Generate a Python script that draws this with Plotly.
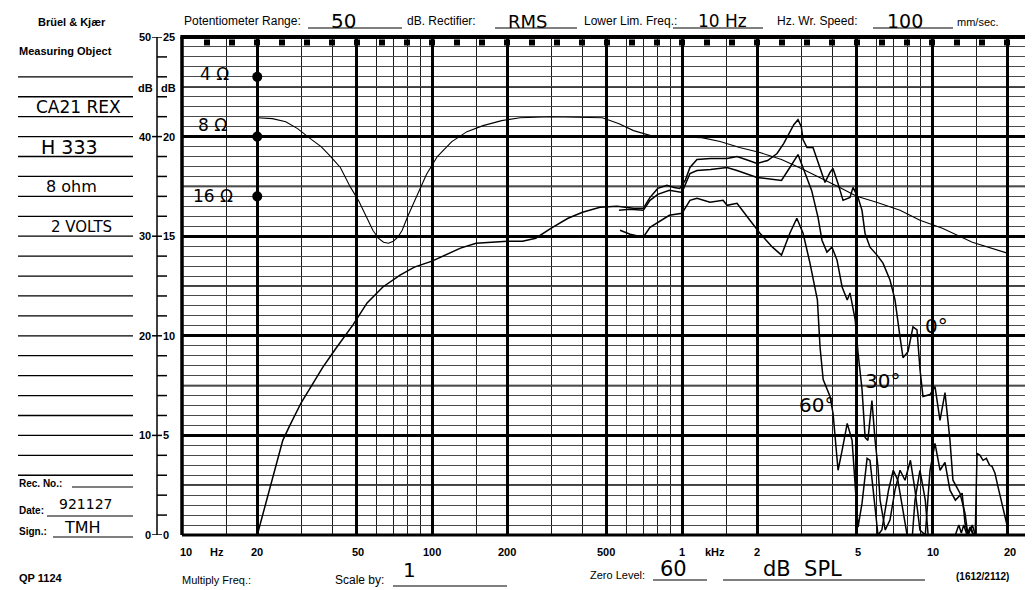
import plotly.graph_objects as go

# impedance curve (0-25 dB scale drawn on the same paper, read in 0-50 units)
imp_freq = [20, 23, 26, 29, 33, 36, 39, 43, 47, 51, 55, 58, 61, 64, 67, 70, 73, 76,
            80, 85, 90, 95, 105, 120, 138, 160, 190, 225, 300, 400, 480, 560, 640,
            750, 900, 1200, 1420, 1700, 2050, 2500, 3000, 3560, 4200, 5000, 6000,
            7450, 8950, 11000, 14500, 20000]
imp_db = [41.9, 41.8, 41.5, 40.8, 39.7, 39.0, 38.1, 36.9, 35.0, 33.5, 31.8, 30.6,
          29.8, 29.4, 29.3, 29.5, 29.9, 30.6, 32.0, 33.5, 35.0, 36.2, 38.0, 39.5,
          40.5, 41.1, 41.6, 41.9, 42.0, 41.9, 41.9, 41.3, 40.6, 40.1, 40.0, 39.9,
          39.5, 38.9, 38.4, 37.7, 36.8, 35.9, 35.0, 34.0, 33.4, 32.6, 31.6, 30.8,
          29.4, 28.3]

# SPL, 0 degrees (full sweep)
spl0_freq = [20, 21, 22, 23.5, 25.3, 27, 30, 33, 36.5, 40.9, 45, 48.3, 55, 63.6, 74.5,
             85, 100, 115, 130, 150, 175, 200, 230, 260, 300, 350, 400, 470, 550, 640,
             700, 745, 800, 870, 930, 980, 1030, 1076, 1148, 1300, 1514, 1660, 1800,
             1995, 2200, 2400, 2550, 2700, 2800, 2911, 3000, 3048, 3162, 3342, 3565,
             3733, 3908, 4018, 4207, 4406, 4699, 4831, 5058, 5248, 5395, 5649, 6026,
             6368, 6792, 7112, 7447, 7656, 8017, 8395, 8710, 8954, 9204, 9817, 10280,
             10765, 11272, 11588, 11800, 12130, 12940, 13550, 13930, 14300, 14600,
             14900, 15136, 15560, 16000, 16500, 17000, 17378, 17865, 18300, 18707,
             19400, 19953]
spl0_db = [0, 2, 4, 6.5, 9.5, 11, 13.3, 15, 16.8, 18.6, 20.0, 21.1, 23.3, 24.9, 26.1,
           26.9, 27.5, 28.2, 28.8, 29.3, 29.4, 29.5, 29.5, 29.8, 30.8, 31.8, 32.4, 32.9,
           33.0, 32.8, 32.8, 33.9, 34.8, 35.1, 34.9, 34.8, 35.6, 36.9, 37.7, 37.8, 37.8,
           38.0, 37.7, 37.3, 37.6, 38.3, 39.3, 40.4, 41.2, 41.7, 41.0, 39.7, 38.9, 38.9,
           36.9, 35.4, 36.4, 36.8, 35.3, 33.6, 33.9, 34.9, 33.9, 32.6, 30.3, 28.9, 28.1,
           27.3, 25.6, 23.6, 19.9, 17.8, 18.4, 20.9, 20.6, 16.6, 13.9, 14.1, 14.9, 11.5,
           14.3, 11.5, 9.5, 5.5, 4.2, 2.2, 0.0, 0.8, 0.1, 0.2, 8.2, 8.0, 7.5, 7.7, 7.0,
           6.9, 6.2, 5.0, 4.0, 2.3, 1.0]

# SPL, 30 degrees
spl30_freq = [560, 620, 700, 745, 800, 890, 1000, 1076, 1148, 1300, 1514, 1660, 1995,
              2300, 2500, 2700, 2911, 3100, 3300, 3500, 3630, 3800, 3980, 4170, 4370,
              4580, 4700, 4930, 5060, 5250, 5400, 5540, 5750, 5920, 6080, 6200, 6500,
              6790, 7110, 7450, 7800, 8200, 8550, 8950, 9400, 9820, 10280, 10770,
              11270, 11800, 12400, 13200, 13550, 13930, 14500, 14900]
spl30_db = [32.6, 32.7, 32.6, 33.6, 34.2, 34.6, 34.4, 36.3, 36.6, 36.7, 36.9, 36.6,
            35.9, 35.7, 35.6, 36.9, 38.2, 36.4, 34.6, 31.9, 29.6, 28.4, 28.9, 27.6,
            24.9, 23.6, 24.3, 21.6, 18.3, 14.6, 9.8, 9.5, 13.5, 9.5, 6.8, 3.5, 0.5,
            1.5, 4.5, 6.5, 5.5, 7.5, 4.5, 0.5, 0.0, 6.5, 9.2, 6.5, 7.3, 4.5, 3.5, 4.2,
            1.2, 0.0, 1.0, 0.0]

# SPL, 60 degrees
spl60_freq = [565, 620, 700, 745, 890, 1000, 1076, 1148, 1294, 1460, 1514, 1660, 1830,
              2050, 2300, 2500, 2700, 2880, 3050, 3250, 3480, 3565, 3670, 3910, 4020,
              4210, 4370, 4580, 4790, 4930, 5060, 5250, 5500, 5650, 5920, 6080, 6300,
              6700, 7000, 7300, 7650, 7950, 8350, 8550, 8950, 9400, 9650, 10500, 11500,
              12400, 12800, 13100, 13400, 13800, 14200, 14600, 15000]
spl60_db = [30.6, 30.2, 29.9, 30.9, 32.1, 32.3, 33.6, 33.8, 33.4, 33.6, 33.1, 33.3,
            31.9, 30.3, 28.9, 28.1, 30.3, 31.8, 30.3, 27.3, 23.6, 18.9, 15.6, 13.9,
            12.2, 6.5, 8.5, 11.2, 9.5, 4.5, 0.8, 3.2, 7.7, 7.5, 2.8, 0.0, 0.5, 4.5,
            6.5, 5.5, 2.5, 0.0, 0.0, 3.5, 6.5, 3.5, 0.0, 0.0, 0.0, 0.0, 1.0, 0.2, 1.0,
            0.0, 0.8, 0.0, 0.0]

# impedance calibration dots at 20 Hz
cal_freq = [20, 20, 20]
cal_db = [46, 40, 34]
cal_labels = ["4 Ω", "8 Ω", "16 Ω"]

major_f = [10, 20, 50, 100, 200, 500, 1000, 2000, 5000, 10000, 20000]
minor_f = [15, 30, 40, 60, 70, 80, 90, 150, 300, 400, 600, 700, 800, 900, 1500,
           3000, 4000, 6000, 7000, 8000, 9000, 15000]
freq_labels = ["10", "Hz", "20", "50", "100", "200", "500", "1", "kHz", "2", "5", "10", "20"]
scale_left = ["0", "10", "20", "30", "40", "50"]
scale_right = ["0", "5", "10", "15", "20", "25"]

# the page body adds an 8 px margin, so the figure is 8 px short of the window
OFF = 8
W, H = 1033 - OFF, 590 - OFF
# plot area in window pixels: x 182..1027, y 37..535
PX0, PX1, PY0, PY1 = 182, 1027, 37, 535
PRINT = "Liberation Sans, Arial, sans-serif"
HAND = "DejaVu Sans, sans-serif"


def xp(px):
    return (px - PX0) / (PX1 - PX0)


def yp(py):
    return (PY1 - py) / (PY1 - PY0)


fig = go.Figure()
fig.add_trace(go.Scatter(x=imp_freq, y=imp_db, mode="lines",
                         line=dict(color="black", width=1.1)))
for fx, dy in [(spl0_freq, spl0_db), (spl30_freq, spl30_db), (spl60_freq, spl60_db)]:
    fig.add_trace(go.Scatter(x=fx, y=dy, mode="lines",
                             line=dict(color="black", width=1.5)))
fig.add_trace(go.Scatter(x=cal_freq, y=cal_db, mode="markers",
                         marker=dict(color="black", size=10), cliponaxis=False))
# chart paper sprocket marks along the top edge
sprocket = [10 ** (1 + k / 10) for k in range(1, 34)]
fig.add_trace(go.Scatter(x=sprocket, y=[49.45] * len(sprocket), mode="markers",
                         marker=dict(symbol="square", color="black", size=6),
                         cliponaxis=False))

shapes = []


def hline(x0, x1, y, w=1.2, yref="paper", color="black"):
    shapes.append(dict(type="line", xref="paper", yref=yref, x0=xp(x0), x1=xp(x1),
                       y0=y, y1=y, line=dict(color=color, width=w)))


# medium 5 dB lines
for d in [5, 15, 25, 35, 45]:
    shapes.append(dict(type="line", xref="paper", yref="y", x0=0, x1=1, y0=d, y1=d,
                       layer="between", line=dict(color="black", width=1.7)))
# frame
shapes.append(dict(type="line", xref="paper", yref="paper", x0=-0.002, x1=1, y0=1, y1=1,
                   line=dict(color="black", width=4)))
shapes.append(dict(type="line", xref="paper", yref="paper", x0=0, x1=0, y0=0, y1=1,
                   line=dict(color="black", width=3.5)))
shapes.append(dict(type="line", xref="paper", yref="paper", x0=0, x1=1, y0=0, y1=0,
                   line=dict(color="black", width=3)))
# left dB scale
shapes.append(dict(type="line", xref="paper", yref="y", x0=xp(157), x1=xp(157), y0=0, y1=50,
                   line=dict(color="black", width=1.5)))
for d in range(0, 51, 2):
    if d % 10 == 0:
        hline(152, 162, d, w=1.5, yref="y")
    else:
        hline(157, 167, d, w=1.5, yref="y")
# form lines of the left panel
for d in range(6, 47, 2):
    hline(18, 133, d, w=1.3, yref="y")
hline(72, 133, yp(487))
hline(47, 133, yp(516))
hline(53, 133, yp(537))
# header and footer fill-in lines
for x0, x1, y in [(308, 402, 28), (495, 577, 28), (673, 763, 28), (873, 953, 28),
                  (393, 507, 586), (653, 707, 580), (723, 925, 580)]:
    hline(x0, x1, yp(y), w=1.1)

annotations = []


def text(s, px, py, size=11, anchor="center", bold=False, hand=False):
    annotations.append(dict(
        text=s, x=xp(px), y=yp(py), xref="paper", yref="paper", showarrow=False,
        xanchor=anchor, yanchor="middle",
        font=dict(family=HAND if hand else PRINT, size=size, color="black",
                  weight="bold" if bold else "normal")))


# printed form text
text("Brüel & Kjær", 72, 22, 11, bold=True)
text("Measuring Object", 17, 51, 11, "left", bold=True)
text("Potentiometer Range:", 182, 21, 12, "left")
text("dB. Rectifier:", 405, 21, 12, "left")
text("Lower Lim. Freq.:", 582, 21, 12, "left")
text("Hz. Wr. Speed:", 775, 21, 12, "left")
text("mm/sec.", 955, 22, 11, "left")
text("dB", 145, 88, 11, bold=True)
text("dB", 168, 88, 11, bold=True)
for i in range(6):
    py = PY1 - (PY1 - PY0) / 5 * i
    text(scale_left[i], 153, py, 11, "right", bold=True)
    text(scale_right[i], 161, py, 11, "left", bold=True)
freq_px = [186, 217, 257, 358, 432, 507, 606, 682, 715, 757, 858, 933, 1010]
for s, px in zip(freq_labels, freq_px):
    text(s, px, 552, 11, bold=True)
text("Multiply Freq.:", 180, 580, 11, "left")
text("Scale by:", 333, 580, 12, "left")
text("Zero Level:", 588, 575, 11, "left")
text("(1612/2112)", 982, 576, 10, bold=True)
text("Rec. No.:", 17, 483, 10, "left", bold=True)
text("Date:", 17, 510, 10, "left", bold=True)
text("Sign.:", 17, 531, 10, "left", bold=True)
text("QP 1124", 17, 578, 11, "left", bold=True)

# hand-written entries
text("50", 343, 21, 20, hand=True)
text("RMS", 527, 21, 18, hand=True)
text("10 Hz", 722, 21, 17, hand=True)
text("100", 905, 21, 19, hand=True)
text("CA21 REX", 78, 107, 17, hand=True)
text("H 333", 69, 147, 19, hand=True)
text("8 ohm", 71, 187, 16, hand=True)
text("2 VOLTS", 81, 227, 15, hand=True)
text("921127", 85, 504, 14, hand=True)
text("TMH", 82, 527, 16, hand=True)
text("1", 409, 570, 20, hand=True)
text("60", 673, 569, 21, hand=True)
text("dB  SPL", 802, 569, 21, hand=True)
for s, px, py in zip(cal_labels, [214, 212, 213], [74, 125, 196]):
    text(s, px, py, 17, hand=True)
text("0°", 936, 326, 20, hand=True)
text("30°", 882, 381, 20, hand=True)
text("60°", 816, 405, 20, hand=True)

fig.update_layout(
    width=W, height=H,
    margin=dict(l=PX0 - OFF, r=W - (PX1 - OFF), t=PY0 - OFF, b=H - (PY1 - OFF), pad=0),
    paper_bgcolor="white", plot_bgcolor="white",
    showlegend=False, hovermode=False,
    shapes=shapes, annotations=annotations,
    xaxis=dict(type="log", range=[1, 1 + (PX1 - PX0) / 250], tickmode="array",
               tickvals=major_f, showticklabels=False, ticks="", showline=False,
               zeroline=False, showgrid=True, gridcolor="black", gridwidth=2.6,
               minor=dict(tickmode="array", tickvals=minor_f, showgrid=True,
                          gridcolor="#1a1a1a", gridwidth=1.3, ticks="")),
    yaxis=dict(range=[0, 50], tickmode="linear", tick0=0, dtick=10,
               showticklabels=False, ticks="", showline=False, zeroline=False,
               showgrid=True, gridcolor="black", gridwidth=2.6,
               minor=dict(tick0=0, dtick=1, showgrid=True, gridcolor="#4a4a4a",
                          gridwidth=1.1, ticks="")),
)

fig.write_html("out.html")
